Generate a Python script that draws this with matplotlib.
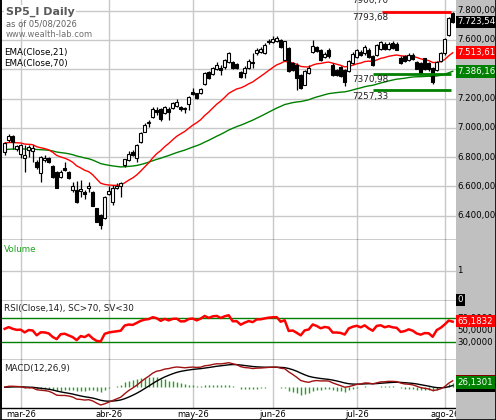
import matplotlib
matplotlib.use("Agg")
import matplotlib.pyplot as plt
from matplotlib.lines import Line2D
from matplotlib.patches import Rectangle
import matplotlib.transforms as mtransforms
import numpy as np
import pandas as pd

# ---- data (SP5_I daily, 24/02/2026 .. 05/08/2026) ----
holidays = ["2026-04-03", "2026-05-25", "2026-06-19", "2026-07-03"]
month_names = ["mar", "abr", "may", "jun", "jul", "ago"]

opens = [6835, 6915, 6945, 6858, 6822, 6795, 6849, 6840, 6770, 6695,
         6782, 6795, 6742, 6700, 6668, 6728, 6700, 6576, 6576, 6570,
         6565, 6590, 6565, 6450, 6405, 6387, 6547, 6496, 6588, 6600,
         6747, 6780, 6835, 6795, 6906, 6974, 7035, 7072, 7120, 7127,
         7100, 7128, 7134, 7150, 7140, 7128, 7163, 7248, 7236, 7236,
         7300, 7384, 7366, 7400, 7407, 7413, 7452, 7452, 7434, 7384,
         7373, 7407, 7448, 7510, 7518, 7511, 7585, 7586, 7591, 7598,
         7461, 7545, 7443, 7431, 7363, 7295, 7375, 7518, 7550, 7534,
         7482, 7534, 7431, 7397, 7414, 7395, 7386, 7443, 7486, 7520,
         7509, 7532, 7490, 7500, 7540, 7575, 7540, 7578, 7575, 7480,
         7490, 7465, 7500, 7450, 7440, 7475, 7440, 7407, 7395, 7455,
         7509, 7634, 7782]
highs = [6905, 6955, 6950, 6885, 6890, 6885, 6880, 6880, 6780, 6810,
         6815, 6800, 6750, 6705, 6710, 6765, 6705, 6633, 6640, 6645,
         6575, 6633, 6570, 6455, 6410, 6535, 6605, 6610, 6625, 6630,
         6790, 6840, 6850, 6890, 6975, 7035, 7055, 7140, 7140, 7135,
         7150, 7140, 7180, 7195, 7150, 7145, 7220, 7275, 7240, 7270,
         7380, 7390, 7415, 7450, 7430, 7470, 7520, 7460, 7445, 7390,
         7420, 7470, 7510, 7545, 7550, 7580, 7610, 7630, 7625, 7610,
         7595, 7550, 7450, 7440, 7370, 7395, 7430, 7600, 7560, 7540,
         7515, 7545, 7440, 7405, 7420, 7400, 7465, 7515, 7540, 7530,
         7565, 7545, 7500, 7575, 7595, 7585, 7585, 7590, 7585, 7490,
         7500, 7510, 7510, 7460, 7450, 7480, 7450, 7415, 7460, 7520,
         7615, 7760, 7793.68]
lows = [6815, 6905, 6856, 6845, 6795, 6700, 6800, 6770, 6720, 6633,
        6770, 6760, 6660, 6590, 6660, 6705, 6650, 6560, 6485, 6530,
        6515, 6565, 6465, 6355, 6310, 6380, 6540, 6475, 6585, 6530,
        6730, 6775, 6808, 6770, 6900, 6970, 7005, 7065, 7090, 7050,
        7095, 7055, 7130, 7145, 7115, 7105, 7120, 7225, 7195, 7230,
        7295, 7335, 7360, 7395, 7360, 7405, 7445, 7400, 7405, 7340,
        7338, 7400, 7410, 7500, 7510, 7505, 7570, 7580, 7585, 7545,
        7455, 7380, 7390, 7257.33, 7265, 7290, 7370, 7510, 7515, 7460,
        7475, 7480, 7352, 7355, 7345, 7285, 7380, 7435, 7480, 7490,
        7500, 7480, 7420, 7490, 7530, 7530, 7535, 7540, 7530, 7435,
        7450, 7460, 7465, 7400, 7365, 7395, 7390, 7300, 7385, 7450,
        7500, 7625, 7715]
closes = [6897, 6948, 6905, 6878, 6883, 6815, 6872, 6860, 6730, 6800,
          6797, 6770, 6667, 6592, 6700, 6712, 6660, 6606, 6496, 6585,
          6550, 6605, 6470, 6360, 6337, 6530, 6570, 6590, 6605, 6622,
          6785, 6822, 6813, 6883, 6965, 7020, 7042, 7130, 7110, 7059,
          7140, 7110, 7172, 7180, 7130, 7135, 7213, 7232, 7202, 7263,
          7373, 7340, 7407, 7427, 7395, 7463, 7509, 7407, 7411, 7345,
          7407, 7459, 7440, 7532, 7537, 7568, 7595, 7609, 7614, 7550,
          7591, 7386, 7397, 7341, 7272, 7386, 7409, 7557, 7523, 7466,
          7504, 7489, 7363, 7363, 7352, 7310, 7455, 7504, 7532, 7498,
          7554, 7486, 7430, 7565, 7585, 7540, 7570, 7545, 7535, 7441,
          7460, 7500, 7470, 7405, 7375, 7405, 7400, 7316, 7452, 7510,
          7605, 7748, 7723.54]

# indicator values just before the first visible bar
prev_close = 6880
ema21_seed, ema70_seed = 6895, 6850
rsi_gain_seed, rsi_loss_seed = 34.0, 32.0
macd_fast_seed, macd_slow_seed, macd_signal_seed = 6880, 6880, 0.0

# drawn horizontal levels: (value, label, colour, first bar)
levels = [(7793.68, "7793,68", "#ff0000", 94.2),
          (7370.98, "7370,98", "#008000", 92.1),
          (7257.33, "7257,33", "#008000", 92.1)]
hidden_level = (7906.70, "7906,70")

# last-value boxes on the right scale
price_ticks = [6400, 6600, 6800, 7000, 7200, 7400, 7600, 7800]
last_close_label = (7723.54, "7.723,540")
ema21_label = (7513.614, "7.513,614")
ema70_label = (7386.163, "7.386,163")
rsi_ticks = [(70, "70,0000"), (50, "50,0000"), (30, "30,0000")]
rsi_label = (65.1832, "65,1832")
hist_label = "26,1301"

# ---- indicators ----
def ema(values, span, seed):
    k = 2.0 / (span + 1)
    out, prev = [], seed
    for v in values:
        prev = prev + k * (v - prev)
        out.append(prev)
    return np.array(out)


def rsi(values, n, pc, g0, l0):
    out, ag, al = [], g0, l0
    for v in values:
        ch = v - pc
        ag = (ag * (n - 1) + max(ch, 0)) / n
        al = (al * (n - 1) + max(-ch, 0)) / n
        out.append(100 - 100 / (1 + ag / al))
        pc = v
    return np.array(out)


opens = np.array(opens, float)
highs = np.array(highs, float)
lows = np.array(lows, float)
closes = np.array(closes, float)
n = len(closes)
x = np.arange(n)

ema21 = ema(closes, 21, ema21_seed)
ema70 = ema(closes, 70, ema70_seed)
rsi14 = rsi(closes, 14, prev_close, rsi_gain_seed, rsi_loss_seed)
macd = ema(closes, 12, macd_fast_seed) - ema(closes, 26, macd_slow_seed)
signal = ema(macd, 9, macd_signal_seed)
hist = macd - signal

dates = pd.bdate_range("2026-02-24", "2026-08-05")
dates = dates[~dates.isin(pd.to_datetime(holidays))]
months = dates.to_period("M")
month_idx = [i for i in range(1, n) if months[i] != months[i - 1]]
month_lbl = [f"{month_names[k]}-26" for k in range(len(month_idx))]

# ---- figure layout (pixel based) ----
W, H = 496, 420
RIGHT = 456
GRID = "#c8c8c8"
plt.rcParams["font.family"] = ["DejaVu Sans"]
fig = plt.figure(figsize=(W / 100, H / 100), dpi=100)


def panel(top, bottom):
    ax = fig.add_axes([1 / W, 1 - bottom / H, (RIGHT - 1) / W, (bottom - top) / H])
    ax.set_xlim(-0.925, 112.825)
    for s in ("top", "right"):
        ax.spines[s].set_visible(False)
    ax.spines["left"].set_linewidth(1.2)
    ax.spines["bottom"].set_linewidth(1.0)
    ax.set_yticks([])
    ax.set_xticks([])
    for m in month_idx:
        ax.axvline(m, color=GRID, lw=1, zorder=0)
    return ax


ax_p = panel(0, 240)
ax_v = panel(240, 300.7)
ax_r = panel(300.7, 360)
ax_m = panel(360, 408)

# price panel
ax_p.set_ylim(6234.8, 7873)
for t in price_ticks:
    ax_p.axhline(t, color=GRID, lw=1, zorder=0)
ax_p.plot(x, ema70, color="#008000", lw=1, zorder=2)
ax_p.plot(x, ema21, color="#ff0000", lw=1, zorder=2)
ax_p.vlines(x, lows, highs, color="black", lw=0.9, zorder=3)
up = closes >= opens
ax_p.bar(x, np.maximum(np.abs(closes - opens), 3), bottom=np.minimum(opens, closes),
         width=0.72, color=np.where(up, "white", "black"), edgecolor="black",
         linewidth=0.8, zorder=4)

lbl_x = 86.8
below = mtransforms.offset_copy(ax_p.transData, fig=fig, x=0, y=-1, units="points")
for val, txt, col, start in levels:
    ax_p.hlines(val, start, 111.6, color=col, lw=2, zorder=5)
    ax_p.text(lbl_x, val, txt, transform=below, va="top", ha="left",
              fontsize=6.3, color="#202020", zorder=6)
ax_p.text(lbl_x, hidden_level[0], hidden_level[1], transform=below, va="top",
          ha="left", fontsize=6.3, color="#202020", clip_on=True)

ax_p.text(5 / RIGHT, 1 - 12 / 240, "SP5_I Daily", transform=ax_p.transAxes,
          fontsize=8, fontweight="bold", color="#5a5a5a", va="center",
          bbox=dict(boxstyle="square,pad=0.15", fc="white", ec="none"))
ax_p.text(5 / RIGHT, 1 - 24 / 240, "as of 05/08/2026", transform=ax_p.transAxes,
          fontsize=6, color="#606060", va="center")
ax_p.text(5 / RIGHT, 1 - 34.5 / 240, "www.wealth-lab.com", transform=ax_p.transAxes,
          fontsize=6, color="#707070", va="center")
ax_p.text(3 / RIGHT, 1 - 52.5 / 240, "EMA(Close,21)", transform=ax_p.transAxes,
          fontsize=6.3, color="black", va="center")
ax_p.text(3 / RIGHT, 1 - 63.5 / 240, "EMA(Close,70)", transform=ax_p.transAxes,
          fontsize=6.3, color="black", va="center")

# volume panel (no volume data)
ax_v.set_ylim(0, 2.02)
ax_v.axhline(1, color=GRID, lw=1, zorder=0)
ax_v.text(3 / RIGHT, 1 - 10 / 60.7, "Volume", transform=ax_v.transAxes,
          fontsize=6.3, color="#22a022", va="center")

# RSI panel
ax_r.set_ylim(0.5, 99.3)
ax_r.axhline(70, color="#008000", lw=1, zorder=1)
ax_r.axhline(30, color="#008000", lw=1, zorder=1)
ax_r.plot(x, rsi14, color="#ff0000", lw=1.8, zorder=2)
ax_r.text(3 / RIGHT, 1 - 8 / 59.3, "RSI(Close,14), SC>70, SV<30",
          transform=ax_r.transAxes, fontsize=6.3, color="#202020", va="center")

# MACD panel
mn, mx = min(macd.min(), signal.min()), max(macd.max(), signal.max())
s = (mx - mn) / 42.3
ax_m.set_ylim(mn - 3 * s, mx + 2.7 * s)
ax_m.vlines(x, 0, hist, color="#22a022", lw=1, zorder=1)
ax_m.plot(x, signal, color="black", lw=1, zorder=2)
ax_m.plot(x, macd, color="#a01010", lw=1, zorder=3)
ax_m.text(3 / RIGHT, 1 - 9 / 48, "MACD(12,26,9)", transform=ax_m.transAxes,
          fontsize=6.3, color="#202020", va="center")
ax_m.set_xticks(month_idx)
ax_m.set_xticklabels(month_lbl, fontsize=6)
ax_m.tick_params(axis="x", length=0, pad=1.5)

# ---- right-hand scale area and outer frame ----
fig.add_artist(Rectangle((RIGHT / W, 0), 1 - RIGHT / W, 1, transform=fig.transFigure,
                         fc="#c0c0c0", ec="none", zorder=1))
fig.add_artist(Line2D([0.5 / W, 0.5 / W], [0, 1], color="black", lw=1.2, zorder=5))
fig.add_artist(Line2D([0, 1], [0.5 / H, 0.5 / H], color="black", lw=1.2, zorder=5))
fig.add_artist(Line2D([1 - 0.5 / W, 1 - 0.5 / W], [0, 1], color="black", lw=1.2, zorder=5))


def fmt_price(v):
    s = f"{v:,.3f}"
    return s.replace(",", "X").replace(".", ",").replace("X", ".")


def side_label(ax, val, txt, fc=None, tc="black", z=3):
    y_disp = ax.transData.transform((0, val))[1]
    y_fig = fig.transFigure.inverted().transform((0, y_disp))[1]
    kw = dict(fontsize=6.2, color=tc, va="center", ha="left", zorder=z)
    if fc:
        kw["bbox"] = dict(boxstyle="square,pad=0.2", fc=fc, ec="none")
    fig.text((RIGHT + 1.5) / W, y_fig, txt, **kw)


for t in price_ticks:
    side_label(ax_p, t, fmt_price(t))
side_label(ax_p, last_close_label[0], last_close_label[1], "black", "white", 4)
side_label(ax_p, ema21_label[0], ema21_label[1], "#ff0000", "white", 4)
side_label(ax_p, ema70_label[0], ema70_label[1], "#008000", "white", 4)

side_label(ax_v, 1, "1")
side_label(ax_v, 0.03, "0", "black", "white", 4)

for val, txt in rsi_ticks:
    side_label(ax_r, val, txt)
side_label(ax_r, rsi_label[0], rsi_label[1], "#ff0000", "white", 4)

side_label(ax_m, macd[-1], f"{macd[-1]:.4f}0".replace(".", ","), "#800000", "white", 4)
side_label(ax_m, signal[-1], f"{signal[-1]:.4f}".replace(".", ","), "black", "white", 5)
side_label(ax_m, hist[-1], hist_label, "#008000", "white", 6)

fig.savefig("out.png", dpi=100)
